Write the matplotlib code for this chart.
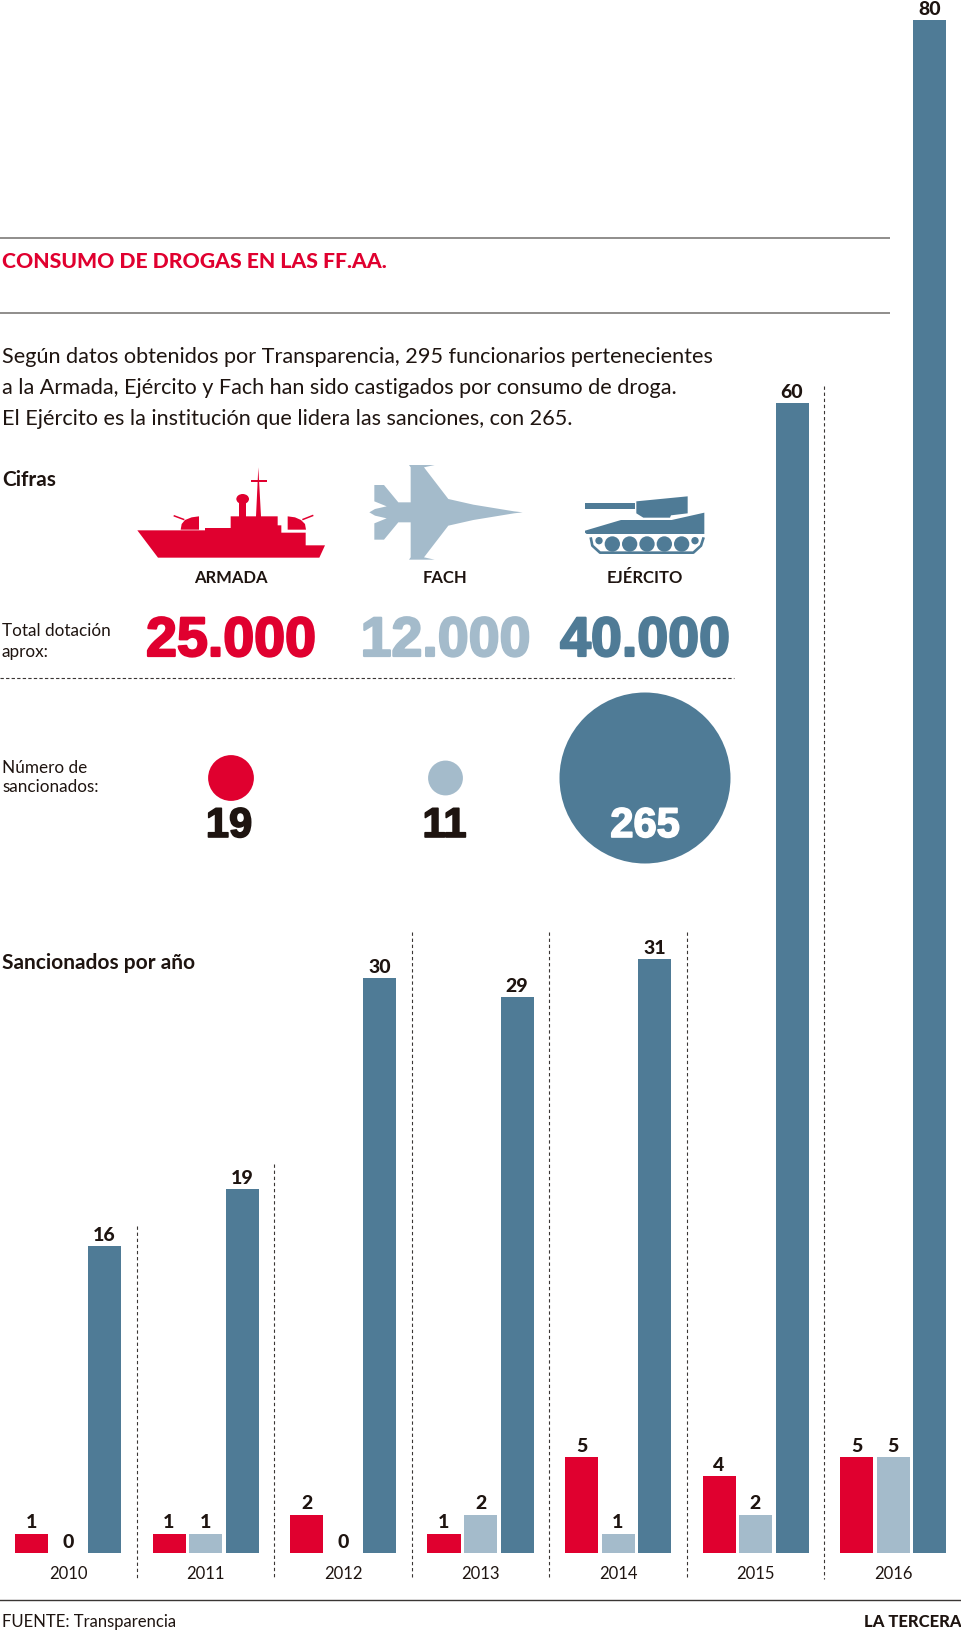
import matplotlib
matplotlib.use('Agg')
import numpy as np
import matplotlib.pyplot as plt
from matplotlib.patches import Polygon, Circle, Ellipse, Wedge
import matplotlib.patheffects as pe

years = ['2010', '2011', '2012', '2013', '2014', '2015', '2016']
armada = [1, 1, 2, 1, 5, 4, 5]
fach = [0, 1, 0, 2, 1, 2, 5]
ejercito = [16, 19, 30, 29, 31, 60, 80]
branches = ['ARMADA', 'FACH', 'EJÉRCITO']
dotacion = ['25.000', '12.000', '40.000']
sancionados = [19, 11, 265]

RED = '#E0002F'
LIGHT = '#A4BBCB'
BLUE = '#4F7B96'
INK = '#1E1410'
W, H = 961, 1631
SANS = ['Lato', 'DejaVu Sans']
NARROW = ['Liberation Sans Narrow', 'Liberation Sans', 'DejaVu Sans']

fig = plt.figure(figsize=(W / 100, H / 100), dpi=100, facecolor='white')

# bar chart: baseline at pixel 1554, value 80 at pixel 21
ax = fig.add_axes([0, 1 - 1554 / H, 1, (1554 - 21) / H])
x0, step = 68, 137.5
ax.set_xlim(-x0 / step, (W - x0) / step)
ax.set_ylim(0, 80)
ax.axis('off')
ax.patch.set_alpha(0)
off = 36.5 / step
bw = 33 / step
idx = np.arange(len(years))
for vals, d, col in [(armada, -off, RED), (fach, 0, LIGHT), (ejercito, off, BLUE)]:
    ax.bar(idx + d, vals, width=bw, color=col, linewidth=0)
    for i, v in zip(idx, vals):
        t = ax.annotate(str(v), (i + d, v), xytext=(0, 4.6), textcoords='offset points',
                        ha='center', va='baseline', fontsize=14, fontweight='black',
                        family=SANS, color=INK, annotation_clip=False)

# overlay in pixel coordinates
ov = fig.add_axes([0, 0, 1, 1], zorder=3)
ov.set_xlim(0, W)
ov.set_ylim(H, 0)
ov.axis('off')
ov.patch.set_alpha(0)

for y, top in [(239, None), (314, None)]:
    ov.plot([0, 890], [y, y], color='#7d7a78', lw=1.2, solid_capstyle='butt')
ov.plot([0, W], [1601, 1601], color='#3a3634', lw=1.0)
ov.plot([0, 734], [679, 679], color='#3a3634', lw=0.8, dashes=(3, 2))

sep_tops = [1227, 1165, 933, 933, 933, 387]
for i, top in enumerate(sep_tops):
    xs = x0 + step * (i + .5)
    ov.plot([xs, xs], [top, 1580], color='#3a3634', lw=0.8, dashes=(3, 2.5))

ov.text(2, 262, 'CONSUMO DE DROGAS EN LAS FF.AA.', color=RED, fontsize=15.2, fontweight='black',
        family=SANS, va='center', ha='left')
body = ['Según datos obtenidos por Transparencia, 295 funcionarios pertenecientes',
        'a la Armada, Ejército y Fach han sido castigados por consumo de droga.',
        'El Ejército es la institución que lidera las sanciones, con 265.']
for y, s in zip([357, 388, 419], body):
    ov.text(2, y, s, color=INK, fontsize=15.6, family=SANS, va='center', ha='left')

ov.text(2, 480, 'Cifras', color=INK, fontsize=15, fontweight='bold', family=SANS, va='center')
ov.text(2, 963, 'Sancionados por año', color=INK, fontsize=15, fontweight='bold', family=SANS, va='center')

cx_lab = [231, 445.5, 645]
cols = [RED, LIGHT, BLUE]
for cx, name, d, c in zip(cx_lab, branches, dotacion, cols):
    ov.text(cx, 578, name, color=INK, fontsize=12, fontweight='bold', family=SANS, ha='center', va='center')
    ov.text(cx, 643, d, color=c, fontsize=40, fontweight='bold', family=NARROW, ha='center', va='center',
            path_effects=[pe.withStroke(linewidth=1.6, foreground=c)])

for y, s in zip([631, 652], ['Total dotación', 'aprox:']):
    ov.text(2, y, s, color=INK, fontsize=12.3, family=SANS, va='center')
for y, s in zip([768, 787], ['Número de', 'sancionados:']):
    ov.text(2, y, s, color=INK, fontsize=12.3, family=SANS, va='center')

k = 85.5 / np.sqrt(265)
for cx, v, c in zip(cx_lab, sancionados, cols):
    ov.add_patch(Circle((cx, 779), k * np.sqrt(v), color=c, lw=0))
for cx, v, c in zip([229, 444.5, 645], sancionados, [INK, INK, 'white']):
    ov.text(cx, 827, str(v), color=c, fontsize=30, fontweight='bold', family=NARROW, ha='center', va='center',
            path_effects=[pe.withStroke(linewidth=1.2, foreground=c)])

for i, y in enumerate(years):
    ov.text(x0 + step * i, 1574, y, color=INK, fontsize=12, family=SANS, ha='center', va='center')
ov.text(2, 1622, 'FUENTE: Transparencia', color=INK, fontsize=12, family=SANS, va='center')
ov.text(961, 1622, 'LA TERCERA', color=INK, fontsize=12, fontweight='black', family=SANS, va='center', ha='right')

# --- icons, traced in zoomed crop coordinates
def add_icon(pts, ox, oy, color):
    ov.add_patch(Polygon([(ox + a / 3, oy + b / 3) for a, b in pts], closed=True, color=color, lw=0))

# ship
ox, oy = 130, 460
add_icon([(22, 214), (225, 214), (225, 207), (302, 207), (302, 172), (378, 172), (385, 25), (393, 172),
          (443, 172), (443, 199), (454, 199), (454, 221), (527, 221), (527, 259), (585, 259), (568, 296), (84, 296)],
         ox, oy, RED)
add_icon([(327, 125), (349, 125), (349, 175), (327, 175)], ox, oy, RED)
add_icon([(363, 62), (410, 62), (410, 68), (363, 68)], ox, oy, RED)
ov.add_patch(Ellipse((ox + 338 / 3, oy + 120 / 3), 38 / 3, 30 / 3, color=RED, lw=0))
add_icon([(152, 212), (207, 212), (207, 172), (185, 175), (165, 183), (155, 195)], ox, oy, RED)
add_icon([(473, 212), (528, 212), (525, 195), (513, 183), (495, 175), (473, 172)], ox, oy, RED)
for a, b, c, d in [(131, 170, 163, 182), (517, 182, 550, 169)]:
    ov.plot([ox + a / 3, ox + c / 3], [oy + b / 3, oy + d / 3], color=RED, lw=1.1, solid_capstyle='butt')

# jet
ox, oy = 360, 460
top = [(488, 160), (462, 157), (340, 137), (265, 120), (192, 25), (224, 18), (147, 18), (152, 25), (152, 130),
       (115, 130), (72, 78), (43, 78), (43, 127), (80, 142), (45, 150), (28, 160)]
bottom = [(a, 320 - b) for a, b in reversed(top[1:-1])]
add_icon(top + bottom[::1][:0] + [(a, 320 - b) for a, b in reversed(top[1:-1])][::-1][::-1], ox, oy, LIGHT) if False else None
add_icon(top + [(28, 160)] + bottom, ox, oy, LIGHT)

# tank
ox, oy = 575, 485
add_icon([(30, 58), (180, 58), (180, 75), (30, 75)], ox, oy, BLUE)
add_icon([(184, 52), (338, 37), (338, 88), (288, 94), (285, 101), (205, 101), (184, 88)], ox, oy, BLUE)
add_icon([(30, 140), (138, 108), (290, 108), (388, 86), (388, 150), (35, 150), (30, 146)], ox, oy, BLUE)
trk = [(47, 160), (52, 185), (75, 206), (355, 206), (378, 185), (386, 160)]
ov.plot([ox + a / 3 for a, b in trk], [oy + b / 3 for a, b in trk], color=BLUE, lw=1.9, solid_capstyle='butt')
for wx in [112, 164, 216, 268, 320]:
    ov.add_patch(Circle((ox + wx / 3, oy + 180 / 3), 23 / 3, color=BLUE, lw=0))
for wx in [72, 360]:
    ov.add_patch(Circle((ox + wx / 3, oy + 170 / 3), 11 / 3, color=BLUE, lw=0))

fig.savefig('out.png', dpi=100, facecolor='white')
